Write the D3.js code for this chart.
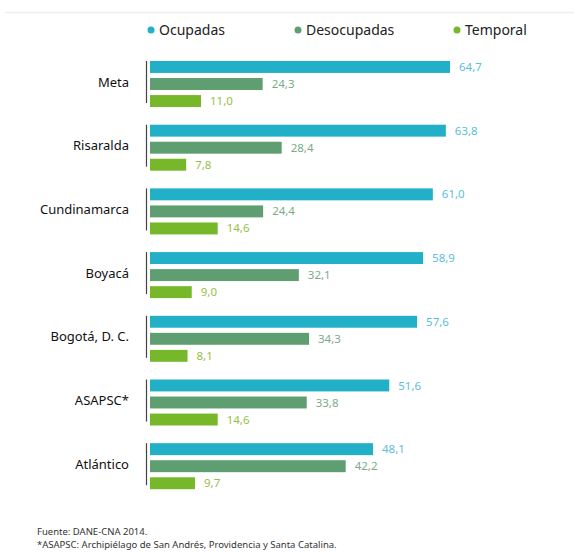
<!DOCTYPE html>
<html>
<head>
<meta charset="UTF-8">
<title>Ocupadas / Desocupadas / Temporal</title>
<script src="https://d3js.org/d3.v7.min.js"></script>
<style>
    body { margin: 0; background: #fff; }
    svg { display: block; font-family: "Noto Sans", sans-serif; }
</style>
</head>
<body>
<svg id="chart" width="574" height="552"></svg>
<script>
    // datos
    const departamentos = ["Meta", "Risaralda", "Cundinamarca", "Boyacá", "Bogotá, D. C.", "ASAPSC*", "Atlántico"];
    const ocupadas = [64.7, 63.8, 61.0, 58.9, 57.6, 51.6, 48.1];
    const desocupadas = [24.3, 28.4, 24.4, 32.1, 34.3, 33.8, 42.2];
    const temporal = [11.0, 7.8, 14.6, 9.0, 8.1, 14.6, 9.7];
    const series = ["Ocupadas", "Desocupadas", "Temporal"];

    const colores = ["#22afc8", "#5e9e70", "#76b82a"];
    const coloresTexto = ["#5cc0d8", "#7aab86", "#98c047"];

    const svg = d3.select("#chart");

    // linea superior
    svg.append("line")
        .attr("x1", 5).attr("x2", 574)
        .attr("y1", 12.5).attr("y2", 12.5)
        .attr("stroke", "#eeeeee")
        .attr("stroke-width", 1.5);

    const x = d3.scaleLinear().domain([0, 64.7]).range([150, 450]);

    const y = d3.scaleBand()
        .domain(departamentos)
        .range([61, 61 + 63.7 * 7])
        .paddingInner(0);

    const ySub = d3.scaleBand()
        .domain(series)
        .range([0, 46])
        .paddingInner(0.3);

    const data = departamentos.map((d, i) => ({
        name: d,
        values: [ocupadas[i], desocupadas[i], temporal[i]]
    }));

    const g = svg.selectAll("g.grupo")
        .data(data)
        .join("g")
        .attr("class", "grupo")
        .attr("transform", d => `translate(0,${y(d.name)})`);

    // linea vertical del eje
    g.append("line")
        .attr("x1", 146.5).attr("x2", 146.5)
        .attr("y1", 0).attr("y2", 42)
        .attr("stroke", "#444")
        .attr("stroke-width", 1.2);

    g.append("text")
        .attr("x", 129)
        .attr("y", 21)
        .attr("dy", "0.35em")
        .attr("text-anchor", "end")
        .attr("fill", "#111")
        .style("font-size", "13px")
        .text(d => d.name);

    series.forEach((s, j) => {
        g.append("rect")
            .attr("x", x(0))
            .attr("y", ySub(s))
            .attr("width", d => x(d.values[j]) - x(0))
            .attr("height", ySub.bandwidth())
            .attr("fill", colores[j]);

        g.append("text")
            .attr("x", d => x(d.values[j]) + 9)
            .attr("y", ySub(s) + ySub.bandwidth() / 2)
            .attr("dy", "0.35em")
            .attr("fill", coloresTexto[j])
            .style("font-size", "11.5px")
            .text(d => d.values[j].toFixed(1).replace(".", ","));
    });

    // leyenda
    const legendX = [151, 298, 457];
    const legend = svg.selectAll("g.leyenda")
        .data(series)
        .join("g")
        .attr("class", "leyenda")
        .attr("transform", (d, i) => `translate(${legendX[i]},30)`);

    legend.append("circle")
        .attr("r", 3.5)
        .attr("fill", (d, i) => colores[i]);

    legend.append("text")
        .attr("x", 8)
        .attr("dy", "0.35em")
        .attr("fill", "#222")
        .style("font-size", "14px")
        .text(d => d);

    // fuente
    svg.append("text")
        .attr("x", 37).attr("y", 535)
        .attr("fill", "#333")
        .style("font-size", "9.5px")
        .text("Fuente: DANE-CNA 2014.");

    svg.append("text")
        .attr("x", 37).attr("y", 548)
        .attr("fill", "#333")
        .style("font-size", "9.5px")
        .text("*ASAPSC: Archipiélago de San Andrés, Providencia y Santa Catalina.");
</script>
</body>
</html>
